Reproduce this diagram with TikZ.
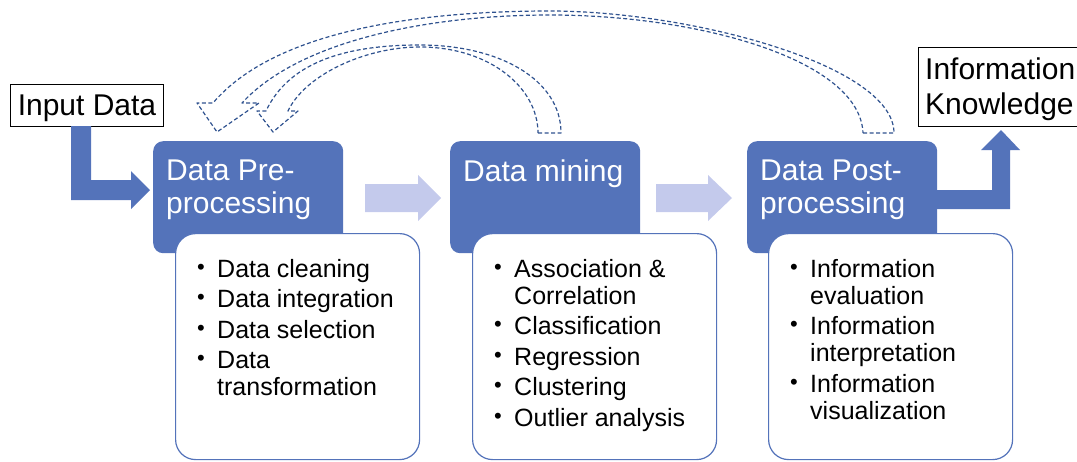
\documentclass[tikz,border=0pt]{standalone}
\usepackage{fontspec}
\setmainfont{Liberation Sans}
\usetikzlibrary{positioning}

\definecolor{stageblue}{RGB}{84,115,186}
\definecolor{flowblue}{RGB}{196,202,236}
\definecolor{loopblue}{RGB}{47,82,143}

\newcommand{\bul}{\makebox[20pt][l]{\raisebox{3pt}{\fontsize{22}{22}\selectfont\textbullet}}}
\newcommand{\nobul}{\hspace*{20pt}}

\tikzset{
  stagebox/.style={fill=stageblue, rounded corners=10pt, inner sep=0pt, anchor=north west,
    minimum width=190pt, minimum height=112pt},
  stagetitle/.style={text=white, font=\fontsize{30}{33}\selectfont, align=left,
    inner sep=0pt, anchor=north west},
  listbox/.style={draw=stageblue, line width=1.2pt, fill=white, rounded corners=20pt,
    anchor=north west, minimum width=244pt, minimum height=226pt, inner sep=0pt},
  listtext/.style={font=\fontsize{25}{27}\selectfont, align=left, inner sep=0pt, anchor=north west},
  endbox/.style={draw=black, line width=1pt, fill=white, font=\fontsize{30}{35}\selectfont,
    inner sep=0pt, anchor=north west},
  endtext/.style={font=\fontsize{30}{35}\selectfont, align=left, inner sep=0pt, anchor=north west},
  flowarrow/.style={fill=flowblue},
  bentarrow/.style={fill=stageblue},
  feedback/.style={draw=loopblue, line width=1.2pt, dash pattern=on 4pt off 2.5pt, line join=round}
}

\begin{document}
\begin{tikzpicture}[x=1pt, y=-1pt]
    \useasboundingbox (0,0) rectangle (1077,461);

    % feedback loops
    \draw[feedback] (863,133) -- (894,133)
        .. controls (894,65) and (690,11) .. (550,11)
        .. controls (420,11) and (275,30) .. (213,103)
        -- (197,103) -- (217,132) -- (259,103) -- (242,103)
        .. controls (300,40) and (430,15) .. (550,15)
        .. controls (700,15) and (860,60) .. (863,133) -- cycle;
    \draw[feedback] (538,133) -- (561,133)
        .. controls (561,80) and (500,45) .. (420,45)
        .. controls (350,45) and (290,60) .. (266,111)
        -- (257,111) -- (273,132) -- (298,111) -- (288,111)
        .. controls (305,75) and (365,47) .. (420,47)
        .. controls (490,47) and (538,88) .. (538,133) -- cycle;

    % end boxes
    \node[endbox, minimum width=153pt, minimum height=42pt, text depth=0pt] (input) at (10,84) {Input Data};
    \node[endbox, minimum width=159pt, minimum height=79pt] (info) at (918,47) {};
    \node[endtext] (infoText) at (925,58) {Information\\Knowledge};

    % bent arrows
    \fill[bentarrow] (71,126) -- (91,126) -- (91,180) -- (131,180) -- (131,171) -- (150,190)
        -- (131,209) -- (131,200) -- (71,200) -- cycle;
    \fill[bentarrow] (937,190) -- (992,190) -- (992,150) -- (981,150) -- (1001,130)
        -- (1020,150) -- (1010,150) -- (1010,209) -- (937,209) -- cycle;

    % stages
    \node[stagebox] (pre) at (153,141) {};
    \node[stagebox] (mine) at (450,141) {};
    \node[stagebox] (post) at (747,141) {};

    \node[stagetitle] (preTitle) at (166,160) {Data Pre-\\processing};
    \node[stagetitle] (mineTitle) at (463,160) {Data mining};
    \node[stagetitle] (postTitle) at (760,160) {Data Post-\\processing};

    % flow arrows
    \fill[flowarrow] (365,184) -- (418,184) -- (418,175) -- (441,198) -- (418,221)
        -- (418,212) -- (365,212) -- cycle;
    \fill[flowarrow] (656,184) -- (708,184) -- (708,175) -- (732,198) -- (708,221)
        -- (708,212) -- (656,212) -- cycle;

    % lists
    \node[listbox] (preBox) at (175,233) {};
    \node[listbox] (mineBox) at (472,233) {};
    \node[listbox] (postBox) at (768,233) {};

    \node[listtext] (preList) at (197,259)
    {\bul Data cleaning\\[3.5pt]
     \bul Data integration\\[3.5pt]
     \bul Data selection\\[3.5pt]
     \bul Data\\
     \nobul transformation};
    \node[listtext] (mineList) at (494,259)
    {\bul Association \&\\
     \nobul Correlation\\[3.5pt]
     \bul Classification\\[3.5pt]
     \bul Regression\\[3.5pt]
     \bul Clustering\\[3.5pt]
     \bul Outlier analysis};
    \node[listtext] (postList) at (790,259)
    {\bul Information\\
     \nobul evaluation\\[3.5pt]
     \bul Information\\
     \nobul interpretation\\[3.5pt]
     \bul Information\\
     \nobul visualization};
\end{tikzpicture}
\end{document}
